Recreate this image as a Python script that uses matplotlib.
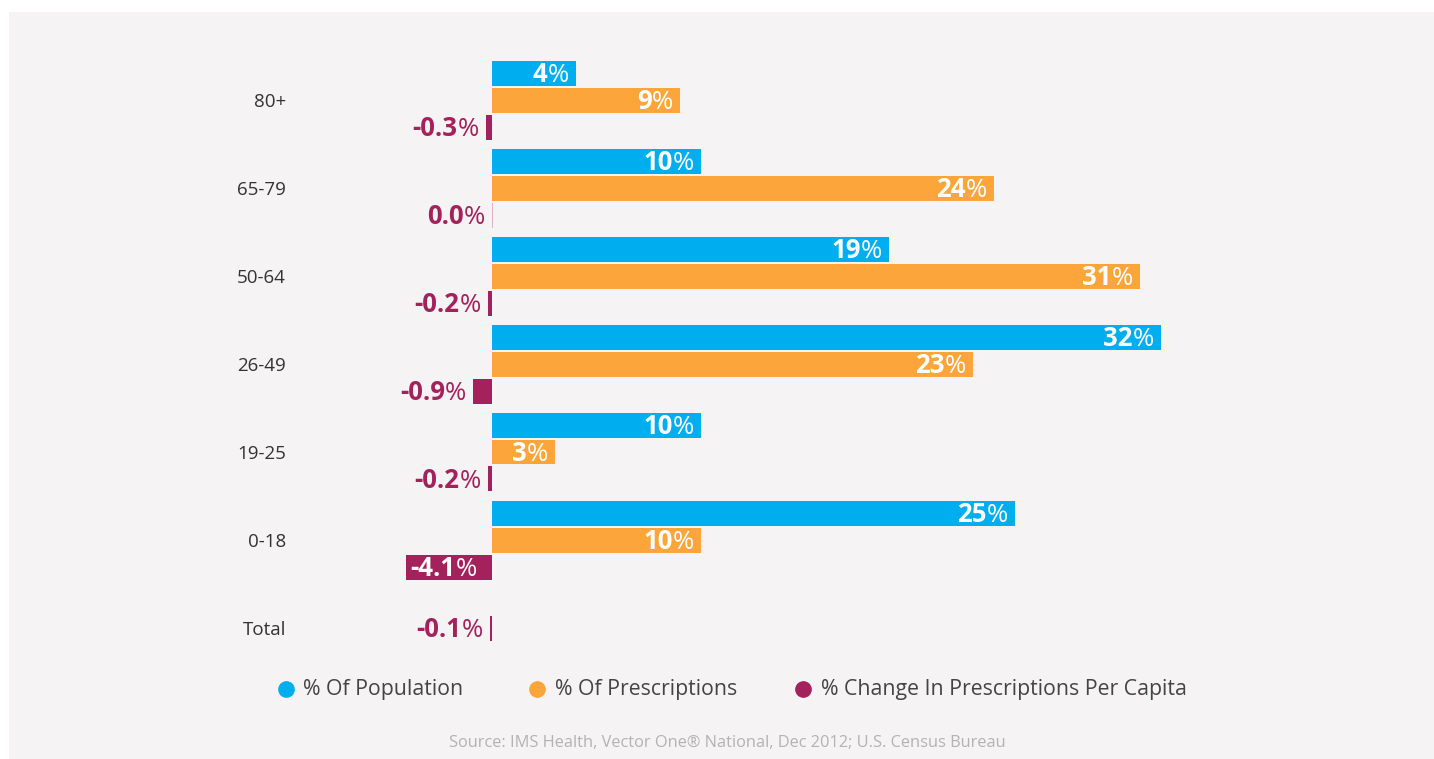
import numpy as np
import matplotlib
matplotlib.use("Agg")
import matplotlib.pyplot as plt
from matplotlib.offsetbox import TextArea, HPacker, AnnotationBbox
from matplotlib.lines import Line2D
from matplotlib.patches import Rectangle

plt.rcParams['font.family'] = ['Open Sans', 'DejaVu Sans']

# data
groups = ['80+', '65-79', '50-64', '26-49', '19-25', '0-18', 'Total']
population = [4, 10, 19, 32, 10, 25]
prescriptions = [9, 24, 31, 23, 3, 10]
change = [-0.3, 0.0, -0.2, -0.9, -0.2, -4.1, -0.1]
series_names = ['% Of Population', '% Of Prescriptions',
                '% Change In Prescriptions Per Capita']

c_pop = '#00aeef'
c_rx = '#fca53b'
c_chg = '#a3225c'
bg = '#f5f3f4'

W, H = 1434, 759
fig = plt.figure(figsize=(W / 100, H / 100), dpi=100, facecolor='white')
fig.add_artist(Rectangle((9 / W, 0), 1, 1 - 12 / H, transform=fig.transFigure,
                         facecolor=bg, edgecolor='none', zorder=0))

# axes placed in pixels: x=0 at 492px, 20.9 px per %
ax_l, ax_r, ax_t, ax_b = 300, 1300, 50, 650
ax = fig.add_axes([ax_l / W, 1 - ax_b / H, (ax_r - ax_l) / W, (ax_b - ax_t) / H])
ax.set_facecolor('none')
ppu = 20.9
ax.set_xlim((ax_l - 492) / ppu, (ax_r - 492) / ppu)
pitch = 88.0
ax.set_ylim((ax_b - 100) / pitch, (ax_t - 100) / pitch)
ax.axis('off')

y = np.arange(len(groups))
off = 27 / pitch
bh = 25 / pitch

ax.barh(y[:6] - off, population, height=bh, color=c_pop)
ax.barh(y[:6], prescriptions, height=bh, color=c_rx)
chg_y = np.append(y[:6] + off, y[6])
for yy, v in zip(chg_y, change):
    if v == 0:
        ax.barh(yy, 0.05, height=bh, color='#dfb3c6')
    else:
        ax.barh(yy, v, height=bh, color=c_chg)


def label(xv, yv, num, color, side):
    # bold number + light percent sign
    t1 = TextArea(num, textprops=dict(color=color, fontsize=18.5, fontweight='bold'))
    t2 = TextArea('%', textprops=dict(color=color, fontsize=18.5))
    box = HPacker(children=[t1, t2], pad=0, sep=0, align='baseline')
    if side == 'in_right':
        xb, al = -5, (1, 0.5)
    elif side == 'out_left':
        xb, al = -5, (1, 0.5)
    else:
        xb, al = 3, (0, 0.5)
    ab = AnnotationBbox(box, (xv, yv), xybox=(xb, -1), xycoords='data',
                        boxcoords='offset points', box_alignment=al,
                        frameon=False, pad=0)
    ax.add_artist(ab)


for i in range(6):
    label(population[i], y[i] - off, str(population[i]), 'white', 'in_right')
    label(prescriptions[i], y[i], str(prescriptions[i]), 'white', 'in_right')
for yy, v in zip(chg_y, change):
    if v < -3:
        label(v, yy, '%.1f' % v, 'white', 'in_left')
    else:
        label(min(v, 0), yy, '%.1f' % v, c_chg, 'out_left')

for yy, g in zip(y, groups):
    ax.annotate(g, (0, yy), xycoords='data', xytext=(-206 * 0.72, -1.5),
                textcoords='offset points', ha='right', va='center',
                fontsize=13.5, color='#333333')

# legend
leg_y = 1 - 690 / H
for cx, tx, col, name in zip([286, 537, 803], [303, 555, 821],
                             [c_pop, c_rx, c_chg], series_names):
    fig.add_artist(Line2D([cx / W], [leg_y + 1 / H], marker='o', markersize=11,
                          color=col, transform=fig.transFigure))
    fig.text(tx / W, leg_y, name, ha='left', va='center', fontsize=15.3,
             color='#444444')

fig.text(727 / W, 1 - 743 / H,
         'Source: IMS Health, Vector One\u00ae National, Dec 2012; U.S. Census Bureau',
         ha='center', va='center', fontsize=11.8, color='#b3b3b3')

fig.savefig('out.png', dpi=100, facecolor='white')
